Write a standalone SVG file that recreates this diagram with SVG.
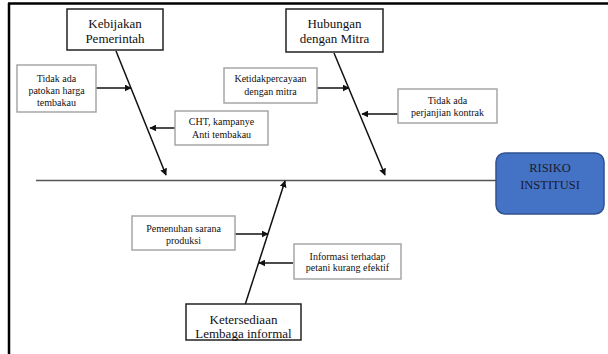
<svg xmlns="http://www.w3.org/2000/svg" width="608" height="354" viewBox="0 0 608 354" font-family="'Liberation Serif', 'DejaVu Serif', serif">
<style>
.main{fill:#fff;stroke:#222;stroke-width:1.5}
.sub{fill:#fff;stroke:#a6a6a6;stroke-width:1.5}
text{font-family:"Liberation Serif","DejaVu Serif",serif}
.tm{font-size:13px;fill:#111;text-anchor:middle}
.ts{font-size:10px;fill:#111;text-anchor:middle}
.bone{stroke:#111;stroke-width:1.5;fill:none;marker-end:url(#ah)}
.sp{stroke:#555;stroke-width:1.5;fill:none}
</style>
<defs>
<marker id="ah" viewBox="0 0 10 10" refX="9" refY="5" markerWidth="7" markerHeight="7" markerUnits="userSpaceOnUse" orient="auto">
<path d="M0,0 L10,5 L0,10 z" fill="#111"/>
</marker>
</defs>
<rect width="608" height="354" fill="#fff"/>
<g id="frame">
<line x1="8" y1="3.5" x2="608" y2="3.5" stroke="#000" stroke-width="2.5"/>
<line x1="9" y1="3" x2="9" y2="354" stroke="#000" stroke-width="2.5"/>
</g>
<g id="connectors">
<line class="sp" x1="36" y1="180.5" x2="496" y2="180.5"/>
<line class="bone" x1="116" y1="51" x2="166" y2="175"/>
<line class="bone" x1="334" y1="53" x2="385" y2="175"/>
<line class="bone" x1="245" y1="305" x2="285" y2="181"/>
<line class="bone" x1="96" y1="88" x2="131" y2="88"/>
<line class="bone" x1="175" y1="128" x2="150" y2="128"/>
<line class="bone" x1="317" y1="88" x2="349" y2="88"/>
<line class="bone" x1="398" y1="114" x2="362" y2="114"/>
<line class="bone" x1="235" y1="234" x2="268" y2="234"/>
<line class="bone" x1="293" y1="263" x2="259" y2="263"/>
</g>
<g id="kebijakan">
<rect class="main" x="67" y="9" width="96" height="41"/>
<text class="tm" x="115" y="27.5">Kebijakan</text>
<text class="tm" x="115" y="42.5">Pemerintah</text>
</g>
<g id="hubungan">
<rect class="main" x="286" y="9" width="97" height="43"/>
<text class="tm" x="334.5" y="27.5">Hubungan</text>
<text class="tm" x="334.5" y="42.5">dengan Mitra</text>
</g>
<g id="ketersediaan">
<rect class="main" x="186" y="304" width="115" height="36"/>
<text class="tm" x="243.5" y="323.5">Ketersediaan</text>
<text class="tm" x="243.5" y="337.5">Lembaga informal</text>
</g>
<g id="risiko">
<rect x="496" y="153" width="108" height="61" rx="9" ry="9" fill="#4472c4" stroke="#2f528f" stroke-width="1.5"/>
<text class="tm" x="550" y="172" style="font-size:12.5px;fill:#1a1a2e">RISIKO</text>
<text class="tm" x="550" y="189" style="font-size:12.5px;fill:#1a1a2e">INSTITUSI</text>
</g>
<g id="patokan">
<rect class="sub" x="17" y="65" width="79" height="47"/>
<text class="ts" x="56.5" y="82">Tidak ada</text>
<text class="ts" x="56.5" y="94">patokan harga</text>
<text class="ts" x="56.5" y="105.5">tembakau</text>
</g>
<g id="cht">
<rect class="sub" x="175" y="111" width="93" height="34"/>
<text class="ts" x="221.5" y="125">CHT, kampanye</text>
<text class="ts" x="221.5" y="137.5">Anti tembakau</text>
</g>
<g id="ketidakpercayaan">
<rect class="sub" x="224" y="68" width="93" height="35"/>
<text class="ts" x="270.5" y="82">Ketidakpercayaan</text>
<text class="ts" x="270.5" y="95">dengan mitra</text>
</g>
<g id="perjanjian">
<rect class="sub" x="398" y="89" width="99" height="34"/>
<text class="ts" x="447.5" y="103.5">Tidak ada</text>
<text class="ts" x="447.5" y="116">perjanjian kontrak</text>
</g>
<g id="pemenuhan">
<rect class="sub" x="132" y="216" width="103" height="34"/>
<text class="ts" x="183.5" y="231.5">Pemenuhan sarana</text>
<text class="ts" x="183.5" y="243.5">produksi</text>
</g>
<g id="informasi">
<rect class="sub" x="294" y="244" width="107" height="35"/>
<text class="ts" x="347.5" y="259.5">Informasi terhadap</text>
<text class="ts" x="347.5" y="271">petani kurang efektif</text>
</g>
</svg>
